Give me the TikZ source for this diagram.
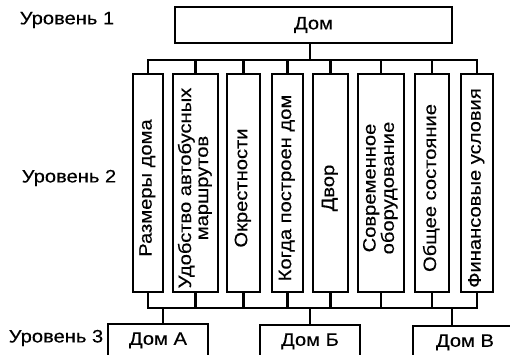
\documentclass[tikz,border=0pt]{standalone}
\usepackage{fontspec}
\setmainfont{Liberation Sans}[FakeStretch=1.12, FakeBold=0.3]
\usepackage{graphicx}
\usetikzlibrary{calc}

% vertical text inside a criterion box
\newcommand{\vtxt}[1]{\rotatebox{90}{\begin{tabular}{@{}c@{}}#1\end{tabular}\hspace{10pt}}}

\begin{document}
\begin{tikzpicture}[x=1pt, y=-1pt,
  box/.style={draw, line width=1.8pt, inner sep=0pt, font=\fontsize{18}{17}\selectfont},
  kbox/.style={box, minimum height=218pt},
  lvl/.style={inner sep=0pt, font=\fontsize{18}{18}\selectfont},
  bus/.style={line width=2.4pt}]

\useasboundingbox (0,0) rectangle (510,354);
\clip (0,0) rectangle (510,354);

% levels
\node[lvl] (u1) at (67,20)  {Уровень 1};
\node[lvl] (u2) at (69,178) {Уровень 2};
\node[lvl] (u3) at (56,338) {Уровень 3};

% level 1
\node[box, minimum width=277pt, minimum height=36pt] (dom) at (313.5,25) {Дом};

% level 2
\node[kbox, minimum width=30pt] (razm) at (148,183)   {\vtxt{Размеры дома}};
\node[kbox, minimum width=45pt] (avto) at (195.5,183) {\vtxt{Удобство автобусных\\маршрутов}};
\node[kbox, minimum width=33pt] (okr)  at (243.5,183) {\vtxt{Окрестности}};
\node[kbox, minimum width=31pt] (god)  at (287.5,183) {\vtxt{Когда построен дом}};
\node[kbox, minimum width=35pt] (dvor) at (330.5,183) {\vtxt{Двор}};
\node[kbox, minimum width=46pt] (obor) at (381,183)   {\vtxt{Современное\\оборудование}};
\node[kbox, minimum width=34pt] (sost) at (432,183)   {\vtxt{Общее состояние}};
\node[kbox, minimum width=32pt] (fin)  at (477,183)   {\vtxt{Финансовые условия}};

% level 3
\node[box, anchor=north, minimum width=100pt, minimum height=33pt] (doma) at (158,323) {Дом А};
\node[box, anchor=north, minimum width=100pt, minimum height=33pt] (domb) at (310,324) {Дом Б};
\node[box, anchor=north, minimum width=104pt, minimum height=33pt] (domv) at (465,325) {Дом В};

% busbars
\coordinate (hub1) at (310,60);
\coordinate (hub2) at (310,308);

\draw[bus] (dom.south -| hub1) -- (hub1);
\draw[bus] (razm.north) |- (hub1) (avto.north) |- (hub1) (okr.north) |- (hub1)
  (god.north) |- (hub1) (dvor.north) |- (hub1) (obor.north) |- (hub1)
  (sost.north) |- (hub1) (fin.north) |- (hub1);

\draw[bus] (razm.south) |- (hub2) (avto.south) |- (hub2) (okr.south) |- (hub2)
  (god.south) |- (hub2) (dvor.south) |- (hub2) (obor.south) |- (hub2)
  (sost.south) |- (hub2) (fin.south) |- (hub2);

\draw[bus] ([xshift=5pt]doma.north) |- (hub2);
\draw[bus] (domb.north) -- (hub2);
\draw[bus] ([xshift=-13pt]domv.north) |- (hub2);

\end{tikzpicture}
\end{document}
